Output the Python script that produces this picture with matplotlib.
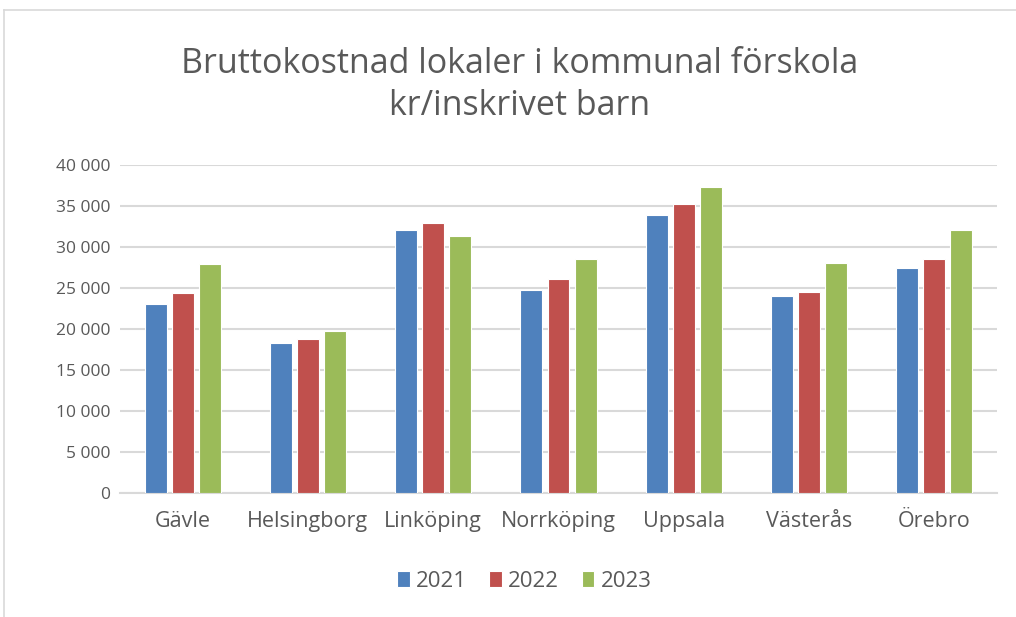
import numpy as np
import matplotlib
matplotlib.use("Agg")
import matplotlib.pyplot as plt
from matplotlib.ticker import FuncFormatter
from matplotlib.lines import Line2D

kommuner = ["Gävle", "Helsingborg", "Linköping", "Norrköping", "Uppsala", "Västerås", "Örebro"]
years = ["2021", "2022", "2023"]
v2021 = [23100, 18250, 32050, 24700, 33850, 24050, 27500]
v2022 = [24400, 18750, 32900, 26050, 35200, 24550, 28550]
v2023 = [27900, 19750, 31400, 28550, 37350, 28000, 32050]
colors = ["#4F81BD", "#C0504D", "#9BBB59"]

plt.rcParams['font.family'] = ['Open Sans', 'DejaVu Sans']

fig = plt.figure(figsize=(10.16, 6.17), dpi=100)
ax = fig.add_axes([120/1016, 1-493/617, 877/1016, 328/617])

x = np.arange(len(kommuner))
width = 0.175
step = 0.216
for i, (vals, c, yr) in enumerate(zip([v2021, v2022, v2023], colors, years)):
    ax.bar(x + (i-1)*step, vals, width, color=c, edgecolor="white", linewidth=0.8, label=yr, zorder=3)

ax.set_xlim(-0.5, len(kommuner)-0.5)
ax.set_ylim(0, 40000)
ax.set_yticks(np.arange(0, 40001, 5000))
ax.yaxis.set_major_formatter(FuncFormatter(lambda v, p: f"{int(v):,}".replace(",", " ")))
ax.grid(axis="y", color="#d9d9d9", linewidth=1.5, zorder=0)
for s in ["top", "right", "left"]:
    ax.spines[s].set_visible(False)
ax.spines["bottom"].set_color("#d9d9d9")
ax.spines["bottom"].set_linewidth(1.5)
ax.tick_params(axis="both", length=0, colors="#595959")
ax.tick_params(axis="y", pad=7, labelsize=12.5)
ax.tick_params(axis="x", pad=13, labelsize=15.5)
ax.set_xticks(x)
ax.set_xticklabels(kommuner)

fig.text(0.511, 1-85/617, "Bruttokostnad lokaler i kommunal förskola\nkr/inskrivet barn",
         ha="center", va="center", fontsize=24.5, color="#595959", linespacing=1.33)

ax.legend(loc="center", bbox_to_anchor=(0.461, -0.27), ncol=3, frameon=False,
          fontsize=16, labelcolor="#595959", handlelength=0.55, handleheight=0.75,
          handletextpad=0.3, columnspacing=1.0)

# light chart-area frame
fig.add_artist(Line2D([4/1016, 4/1016], [0, 1-10/617], color="#d9d9d9", linewidth=1.2))
fig.add_artist(Line2D([4/1016, 1], [1-10/617, 1-10/617], color="#d9d9d9", linewidth=1.2))

fig.savefig("out.png", dpi=100)
